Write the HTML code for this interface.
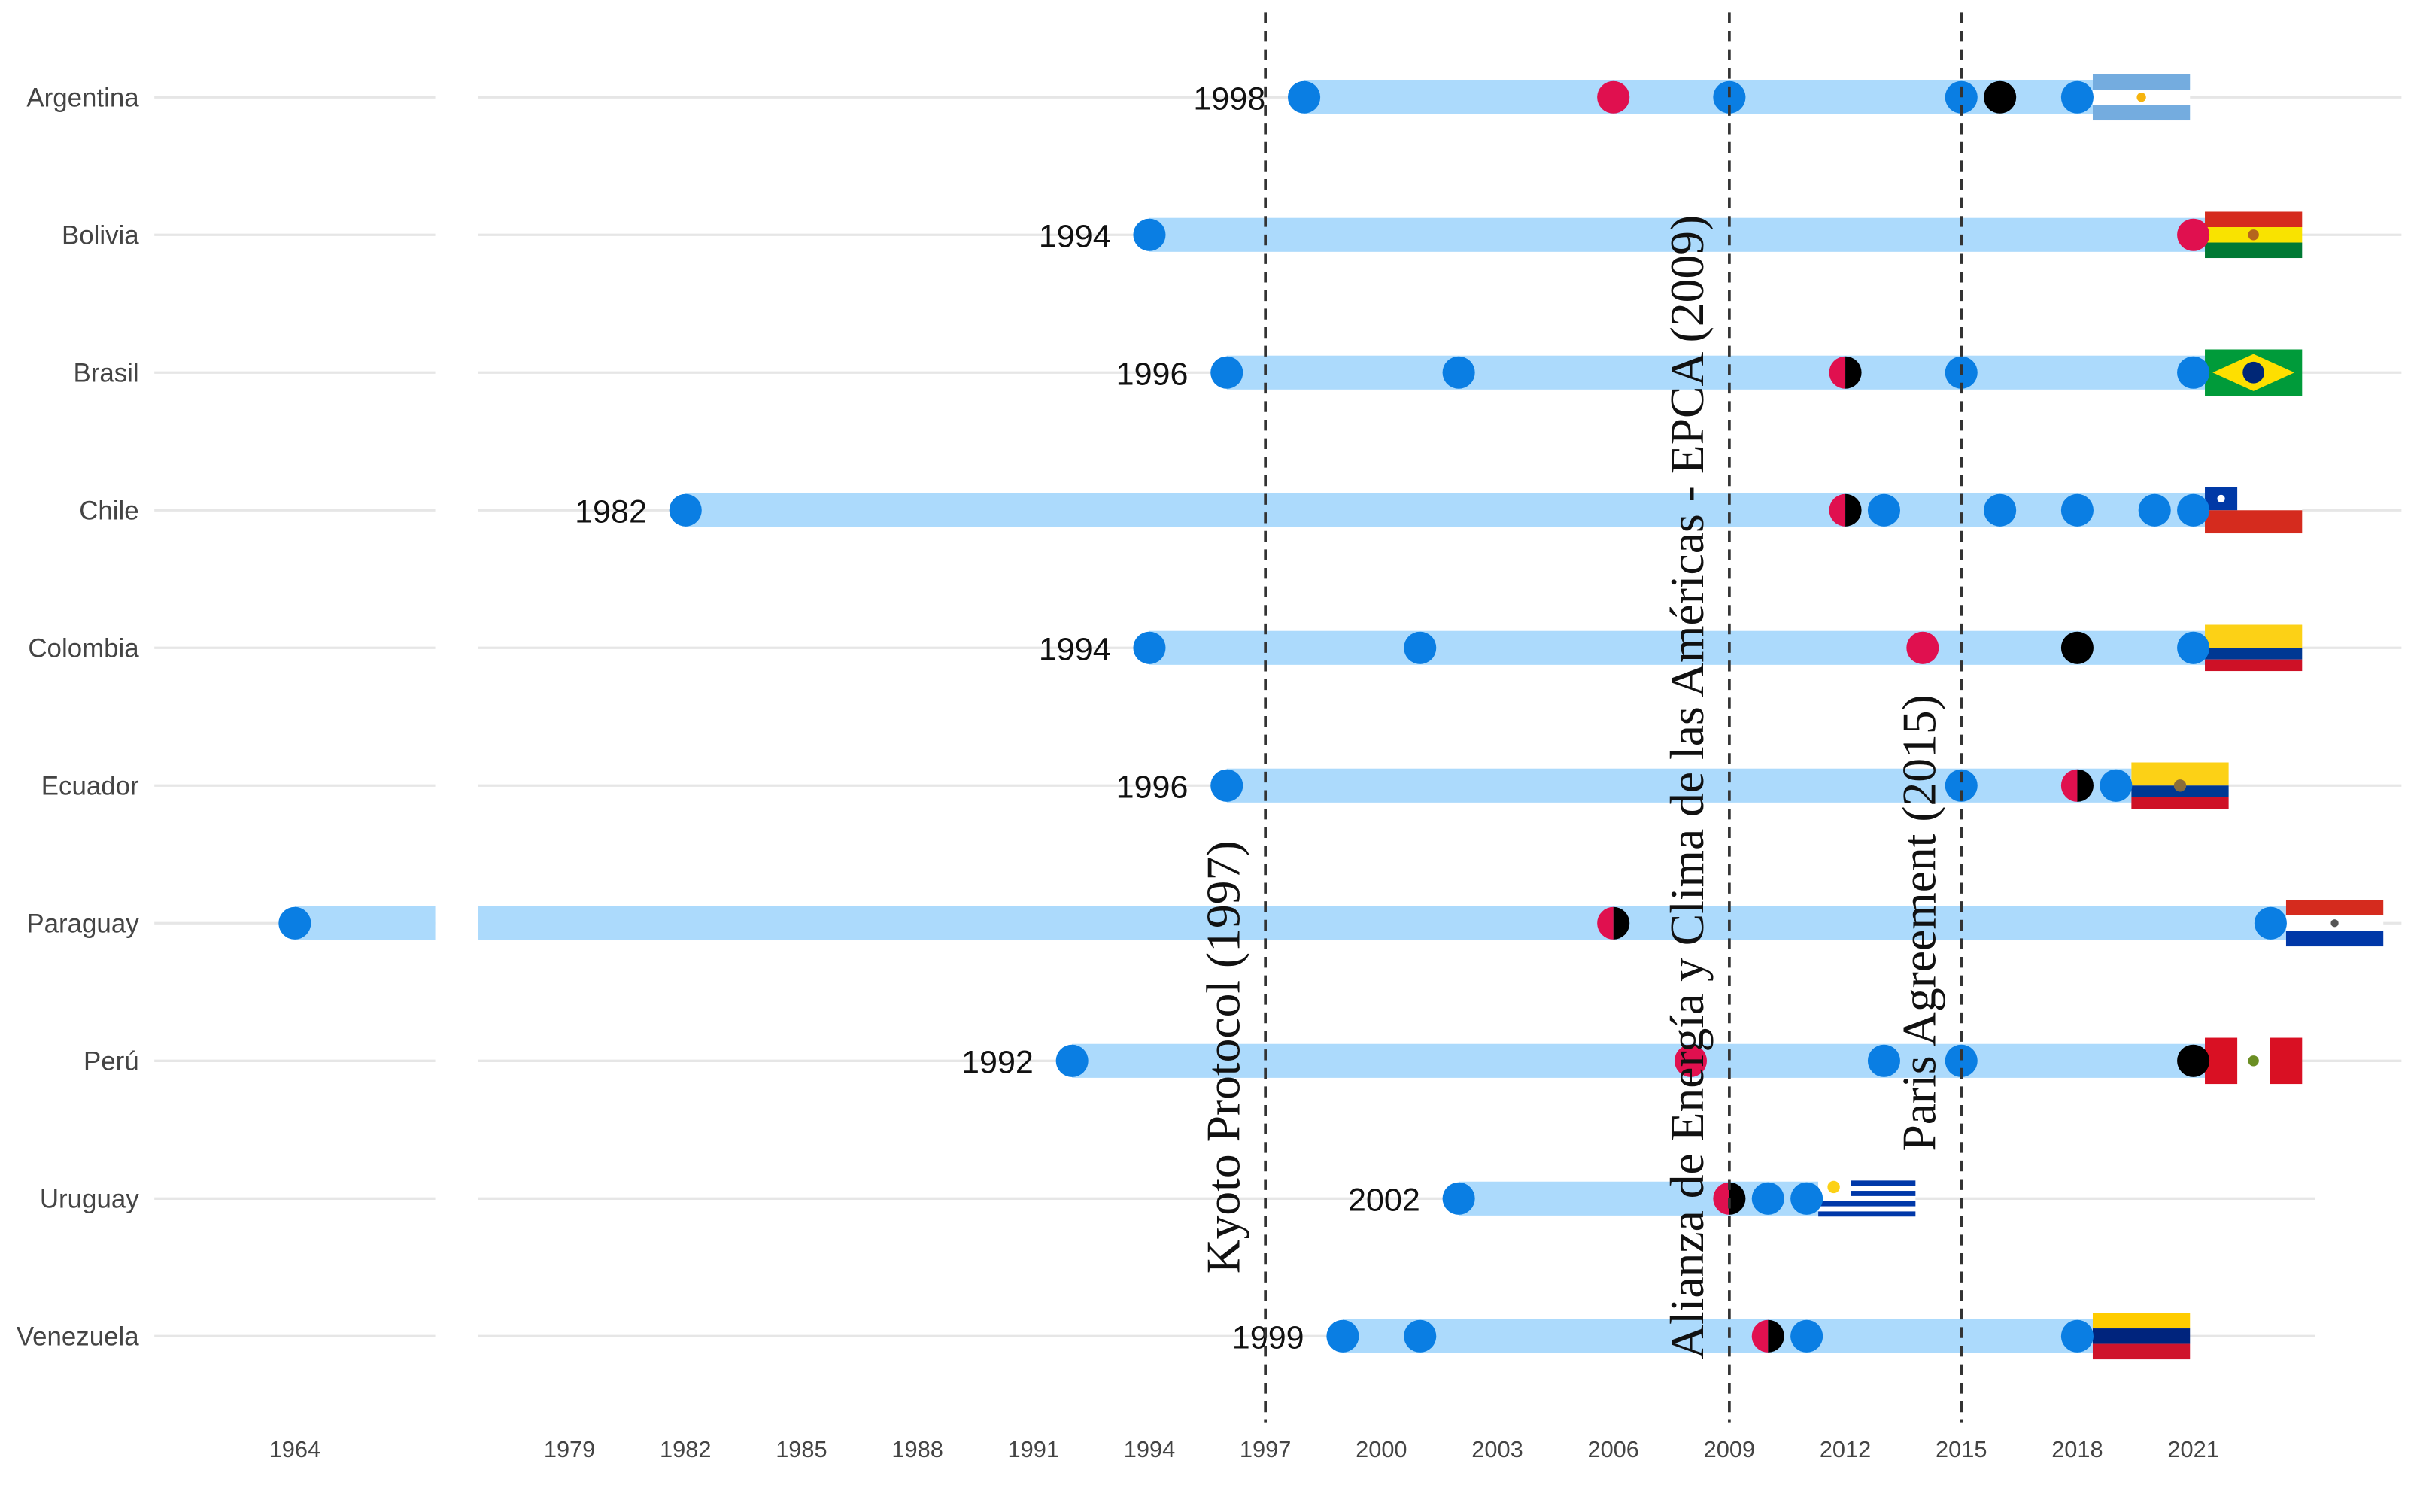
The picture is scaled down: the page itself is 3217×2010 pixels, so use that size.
<!DOCTYPE html>
<html><head><meta charset="utf-8"><style>
html,body{margin:0;padding:0;background:#fff}
svg{display:block}
</style></head><body>
<svg id="chart" width="3217" height="2010" viewBox="0 0 1568 979.7" xmlns="http://www.w3.org/2000/svg"></svg>
<script>
const countries = ["Argentina","Bolivia","Brasil","Chile","Colombia","Ecuador","Paraguay","Perú","Uruguay","Venezuela"];
const startYears = [1998,1994,1996,1982,1994,1996,1964,1992,2002,1999];
const endYears = [2018.4,2021.3,2021.3,2021.3,2021.3,2019.4,2023.4,2021.3,2011.3,2018.4];
const blueEvents = [[1998,2009,2015,2018],[1994],[1996,2002,2015,2021],[1982,2013,2016,2018,2020,2021],[1994,2001,2021],[1996,2015,2019],[1964,2023],[1992,2013,2015],[2002,2010,2011],[1999,2001,2011,2018]];
const redEvents = [[2006],[2021],[],[],[2014],[],[],[2008],[],[]];
const blackEvents = [[2016],[],[],[],[2018],[],[],[2021],[],[]];
const halfEvents = [[],[],[2012],[2012],[],[2018],[2006],[],[2009],[2010]];
const tickYears = [1964,1979,1982,1985,1988,1991,1994,1997,2000,2003,2006,2009,2012,2015,2018,2021];
const milestoneYears = [1997,2009,2015];
const milestoneLabels = ["Kyoto Protocol (1997)","Alianza de Energía y Clima de las Américas - EPCA (2009)","Paris Agreement (2015)"];
const milestoneLabelY = [685,510,598];
const flagCodes = ["ar","bo","br","cl","co","ec","py","pe","uy","ve"];

const NS="http://www.w3.org/2000/svg";
const svg=document.getElementById('chart');
function xs(y){ if(y<1970) return 191+(y-1964)*25.05; return 369+(y-1979)*25.05; }
function ys(i){ return 63+i*89.2; }
function el(tag,attrs,parent){const e=document.createElementNS(NS,tag);for(const k in attrs)e.setAttribute(k,attrs[k]);(parent||svg).appendChild(e);return e;}

const gridEnd=[1556,1556,1556,1556,1556,1556,1556,1556,1500,1500];
countries.forEach((c,i)=>{
  const y=ys(i);
  const g1=el('line',{x1:100,x2:282,y1:y,y2:y,stroke:'#e6e6e6','stroke-width':1.6});
  
  
  const g2=el('line',{x1:310,x2:gridEnd[i],y1:y,y2:y,stroke:'#e6e6e6','stroke-width':1.6});
  
  
  const t=el('text',{x:90,y:y+6,'text-anchor':'end','font-family':'Liberation Sans, sans-serif','font-size':17,fill:'#444'});
  t.textContent=c;
  
  
});
tickYears.forEach(yr=>{
  const t=el('text',{x:xs(yr),y:944,'text-anchor':'middle','font-family':'Liberation Sans, sans-serif','font-size':15,fill:'#444'});
  t.textContent=yr;
  
  
});
countries.forEach((c,i)=>{
  const y=ys(i);
  const s=startYears[i], e=endYears[i];
  if(s<1970){
    const b1=el('rect',{x:xs(s),y:y-11,width:282-xs(s),height:22,fill:'#acdafc'});
    
    
    const b2=el('rect',{x:310,y:y-11,width:xs(e)-310,height:22,fill:'#acdafc'});
    
    
  } else {
    const b=el('rect',{x:xs(s),y:y-11,width:xs(e)-xs(s),height:22,fill:'#acdafc'});
    
    
    const t=el('text',{x:xs(s)-25,y:y+8,'text-anchor':'end','font-family':'Liberation Sans, sans-serif','font-size':21,fill:'#111'});
    t.textContent=s;
    
    
  }
});
function flag(code,x,y){
  const g=el('g',{transform:`translate(${x},${y-15})`});
  
  
  const W=63,H=30;
  const r=(a)=>el('rect',a,g);
  if(code==='ar'){r({x:0,y:0,width:W,height:H/3,fill:'#74acdf'});r({x:0,y:H/3,width:W,height:H/3,fill:'#fff'});r({x:0,y:2*H/3,width:W,height:H/3,fill:'#74acdf'});el('circle',{cx:W/2,cy:H/2,r:3,fill:'#f6b40e'},g);}
  else if(code==='bo'){r({x:0,y:0,width:W,height:H/3,fill:'#d52b1e'});r({x:0,y:H/3,width:W,height:H/3,fill:'#f9e300'});r({x:0,y:2*H/3,width:W,height:H/3,fill:'#007934'});el('circle',{cx:W/2,cy:H/2,r:3.5,fill:'#b5651d'},g);}
  else if(code==='br'){r({x:0,y:0,width:W,height:H,fill:'#009b3a'});el('polygon',{points:`5,${H/2} ${W/2},3 ${W-5},${H/2} ${W/2},${H-3}`,fill:'#fedf00'},g);el('circle',{cx:W/2,cy:H/2,r:7,fill:'#002776'},g);}
  else if(code==='cl'){r({x:0,y:0,width:W,height:H/2,fill:'#fff'});r({x:0,y:0,width:21,height:H/2,fill:'#0039a6'});r({x:0,y:H/2,width:W,height:H/2,fill:'#d52b1e'});el('circle',{cx:10.5,cy:H/4,r:2.5,fill:'#fff'},g);}
  else if(code==='co'||code==='ec'){r({x:0,y:0,width:W,height:H/2,fill:'#fcd116'});r({x:0,y:H/2,width:W,height:H/4,fill:'#003893'});r({x:0,y:3*H/4,width:W,height:H/4,fill:'#ce1126'});if(code==='ec')el('circle',{cx:W/2,cy:H/2,r:4,fill:'#8a6d3b'},g);}
  else if(code==='py'){r({x:0,y:0,width:W,height:H/3,fill:'#d52b1e'});r({x:0,y:H/3,width:W,height:H/3,fill:'#fff'});r({x:0,y:2*H/3,width:W,height:H/3,fill:'#0038a8'});el('circle',{cx:W/2,cy:H/2,r:2.5,fill:'#555'},g);}
  else if(code==='pe'){r({x:0,y:0,width:W,height:H,fill:'#fff'});r({x:0,y:0,width:W/3,height:H,fill:'#d91023'});r({x:2*W/3,y:0,width:W/3,height:H,fill:'#d91023'});el('circle',{cx:W/2,cy:H/2,r:3.5,fill:'#6b8e23'},g);}
  else if(code==='uy'){r({x:0,y:0,width:W,height:H,fill:'#fff'});for(let k=1;k<9;k+=2){if(k<5)r({x:21,y:k*H/9,width:W-21,height:H/9,fill:'#0038a8'});else r({x:0,y:k*H/9,width:W,height:H/9,fill:'#0038a8'});}el('circle',{cx:10,cy:H/4,r:4,fill:'#fcd116'},g);}
  else if(code==='ve'){r({x:0,y:0,width:W,height:H/3,fill:'#ffcc00'});r({x:0,y:H/3,width:W,height:H/3,fill:'#00247d'});r({x:0,y:2*H/3,width:W,height:H/3,fill:'#cf142b'});}
}
countries.forEach((c,i)=>flag(flagCodes[i],xs(endYears[i]),ys(i)));
const R=10.5;
countries.forEach((c,i)=>{
  const y=ys(i);
  blueEvents[i].forEach(yr=>{const p=el('circle',{cx:xs(yr),cy:y,r:R,fill:'#0a7ee3'});
    
    });
  redEvents[i].forEach(yr=>{const p=el('circle',{cx:xs(yr),cy:y,r:R,fill:'#e0104f'});
    
    });
  blackEvents[i].forEach(yr=>{const p=el('circle',{cx:xs(yr),cy:y,r:R,fill:'#000'});
    
    });
  halfEvents[i].forEach(yr=>{const x=xs(yr);
    const g=el('g',{});
    
    
    el('path',{d:`M${x},${y-R} A${R},${R} 0 0 0 ${x},${y+R} Z`,fill:'#e0104f'},g);
    el('path',{d:`M${x},${y-R} A${R},${R} 0 0 1 ${x},${y+R} Z`,fill:'#000'},g);});
});
milestoneYears.forEach((yr,k)=>{
  const x=xs(yr);
  const l=el('line',{x1:x,x2:x,y1:8,y2:922,stroke:'#333','stroke-width':1.8,'stroke-dasharray':'7,5'});
  
  
  const tx=x-24, ty=milestoneLabelY[k];
  const t=el('text',{x:tx,y:ty,'text-anchor':'middle','font-family':'Liberation Serif, serif','font-size':31,fill:'#111',transform:`rotate(-90 ${tx} ${ty})`,'dominant-baseline':'middle'});
  t.textContent=milestoneLabels[k];
  
  
});
</script>
</body></html>
